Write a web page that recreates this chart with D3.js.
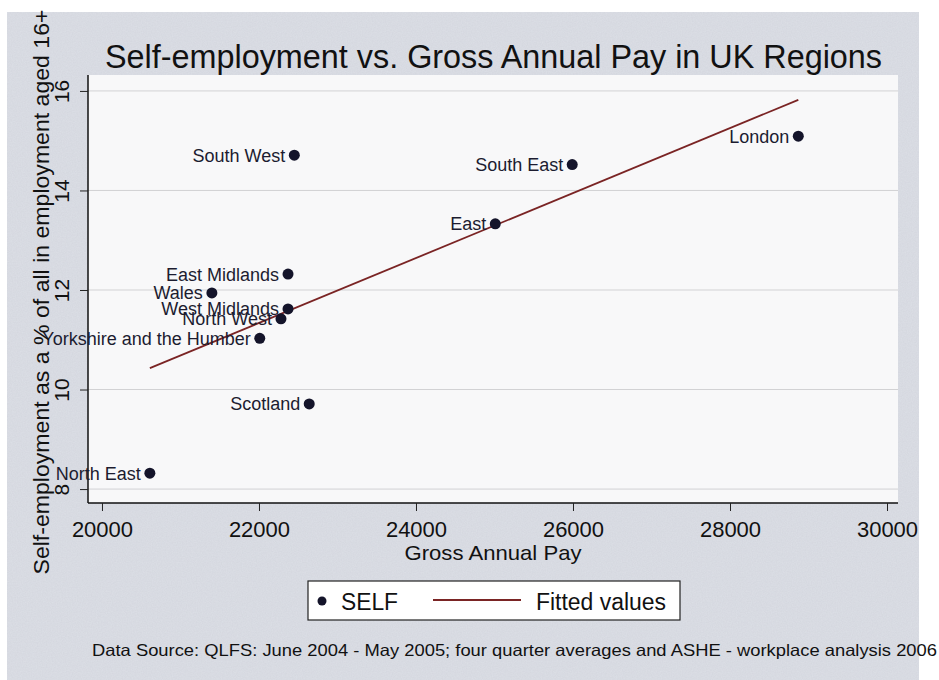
<!DOCTYPE html>
<html>
<head>
<meta charset="utf-8">
<script src="https://cdn.jsdelivr.net/npm/d3@7"></script>
<style>
  html, body { margin: 0; padding: 0; background: #ffffff; }
  svg { display: block; font-family: "Liberation Sans", Arial, sans-serif; }
</style>
</head>
<body>
<svg id="chart" width="939" height="680"></svg>
<script>
// Regions of the UK: gross annual pay vs. self-employment share
const regions = ["North East", "Scotland", "Yorkshire and the Humber", "North West",
  "West Midlands", "Wales", "East Midlands", "South West", "East", "South East", "London"];
const grossPay = [20610, 22640, 22010, 22280, 22370, 21400, 22370, 22450, 25010, 25990, 28870];
const selfShare = [8.32, 9.71, 11.03, 11.42, 11.62, 11.94, 12.32, 14.71, 13.33, 14.52, 15.09];

// Linear fit end points
const fittedPay = [20610, 28870];
const fittedShare = [10.43, 15.82];

const xTicks = [20000, 22000, 24000, 26000, 28000, 30000];
const yTicks = [8, 10, 12, 14, 16];

const titleText = "Self-employment vs. Gross Annual Pay in UK Regions";
const xTitle = "Gross Annual Pay";
const yTitle = "Self-employment as a % of all in employment aged 16+";
const legendLabels = ["SELF", "Fitted values"];
const sourceText = "Data Source: QLFS: June 2004 - May 2005; four quarter averages and ASHE - workplace analysis 2006";

const svg = d3.select("#chart");
const W = 939, H = 680;
const plot = { left: 88, right: 898, top: 75, bottom: 503 };

// Paper grain for the outer graph region
const defs = svg.append("defs");
const grain = defs.append("filter").attr("id", "grain")
  .attr("x", 0).attr("y", 0).attr("width", "100%").attr("height", "100%");
grain.append("feTurbulence").attr("type", "fractalNoise")
  .attr("baseFrequency", 0.8).attr("numOctaves", 2).attr("seed", 7).attr("result", "noise");
grain.append("feColorMatrix").attr("in", "noise").attr("type", "matrix")
  .attr("values", "0 0 0 0 0.55  0 0 0 0 0.56  0 0 0 0 0.62  0 0 0 0.35 0")
  .attr("result", "tint");
grain.append("feComposite").attr("in", "tint").attr("in2", "SourceGraphic").attr("operator", "in");

svg.append("rect").attr("x", 7).attr("y", 12).attr("width", 912).attr("height", H - 12)
  .attr("fill", "#dcdfe6");
svg.append("rect").attr("x", 7).attr("y", 12).attr("width", 912).attr("height", H - 12)
  .attr("fill", "#dcdfe6").attr("filter", "url(#grain)");

// Plot region
svg.append("rect").attr("x", plot.left).attr("y", plot.top)
  .attr("width", plot.right - plot.left).attr("height", plot.bottom - plot.top)
  .attr("fill", "#f8f8f9");

const x = d3.scaleLinear().domain([19822, 30140]).range([plot.left, plot.right]);
const y = d3.scaleLinear().domain([7.72, 16.32]).range([plot.bottom, plot.top]);

// Horizontal grid lines
svg.append("g").selectAll("line").data(yTicks).join("line")
  .attr("x1", plot.left).attr("x2", plot.right)
  .attr("y1", d => y(d)).attr("y2", d => y(d))
  .attr("stroke", "#d2d2d4").attr("stroke-width", 1);

// Y axis
const yAxis = svg.append("g").attr("transform", `translate(${plot.left},0)`)
  .call(d3.axisLeft(y).tickValues(yTicks).tickSize(8).tickSizeOuter(0).tickFormat(d3.format("d")));
yAxis.select(".domain").attr("stroke", "#111").attr("stroke-width", 1.5)
  .attr("d", `M0,${plot.top}V${plot.bottom}`);
yAxis.selectAll(".tick line").attr("stroke", "#222");
yAxis.selectAll(".tick text")
  .attr("x", 0).attr("dy", 0)
  .attr("transform", "translate(-19,0) rotate(-90)")
  .attr("text-anchor", "middle")
  .attr("font-size", 21).attr("fill", "#111");

// X axis
const xAxis = svg.append("g").attr("transform", `translate(0,${plot.bottom})`)
  .call(d3.axisBottom(x).tickValues(xTicks).tickSize(8).tickSizeOuter(0).tickFormat(d3.format("d")));
xAxis.select(".domain").attr("stroke", "#111").attr("stroke-width", 1.5)
  .attr("d", `M${plot.left},0H${plot.right}`);
xAxis.selectAll(".tick line").attr("stroke", "#222");
xAxis.selectAll(".tick text").attr("y", 34).attr("dy", 0)
  .attr("font-size", 22).attr("fill", "#111");

// Fitted line
svg.append("path")
  .datum(fittedPay.map((p, i) => [p, fittedShare[i]]))
  .attr("d", d3.line().x(d => x(d[0])).y(d => y(d[1])))
  .attr("fill", "none").attr("stroke", "#7a2424").attr("stroke-width", 1.8);

// Points and their labels
const pts = regions.map((r, i) => ({ name: r, pay: grossPay[i], share: selfShare[i] }));
const g = svg.append("g");
g.selectAll("circle").data(pts).join("circle")
  .attr("cx", d => x(d.pay)).attr("cy", d => y(d.share)).attr("r", 5.5)
  .attr("fill", "#14142a");
g.selectAll("text").data(pts).join("text")
  .attr("x", d => x(d.pay) - 9).attr("y", d => y(d.share) + 6.5)
  .attr("text-anchor", "end").attr("font-size", 18).attr("fill", "#1c1c30")
  .text(d => d.name);

// Title
svg.append("text").attr("x", 105).attr("y", 68)
  .attr("font-size", 34).attr("fill", "#111")
  .attr("textLength", 777).attr("lengthAdjust", "spacingAndGlyphs")
  .text(titleText);

// Axis titles
svg.append("text").attr("x", 493).attr("y", 560)
  .attr("text-anchor", "middle").attr("font-size", 21).attr("fill", "#111")
  .attr("textLength", 177).attr("lengthAdjust", "spacingAndGlyphs")
  .text(xTitle);
svg.append("text").attr("transform", "translate(49,292) rotate(-90)")
  .attr("text-anchor", "middle").attr("font-size", 21.5).attr("fill", "#111")
  .attr("textLength", 565).attr("lengthAdjust", "spacingAndGlyphs")
  .text(yTitle);

// Legend
const lg = svg.append("g");
lg.append("rect").attr("x", 308).attr("y", 581).attr("width", 372).attr("height", 39)
  .attr("fill", "#ffffff").attr("stroke", "#222").attr("stroke-width", 1.2);
lg.append("circle").attr("cx", 322).attr("cy", 601).attr("r", 4.5).attr("fill", "#14142a");
lg.append("text").attr("x", 341).attr("y", 610).attr("font-size", 23).attr("fill", "#111")
  .attr("textLength", 57).attr("lengthAdjust", "spacingAndGlyphs")
  .text(legendLabels[0]);
lg.append("line").attr("x1", 433).attr("x2", 521).attr("y1", 600).attr("y2", 600)
  .attr("stroke", "#7a2424").attr("stroke-width", 1.8);
lg.append("text").attr("x", 536).attr("y", 610).attr("font-size", 23).attr("fill", "#111")
  .attr("textLength", 130).attr("lengthAdjust", "spacingAndGlyphs")
  .text(legendLabels[1]);

// Source note
svg.append("text").attr("x", 92).attr("y", 656)
  .attr("font-size", 16.5).attr("fill", "#111")
  .attr("textLength", 845).attr("lengthAdjust", "spacingAndGlyphs")
  .text(sourceText);
</script>
</body>
</html>
